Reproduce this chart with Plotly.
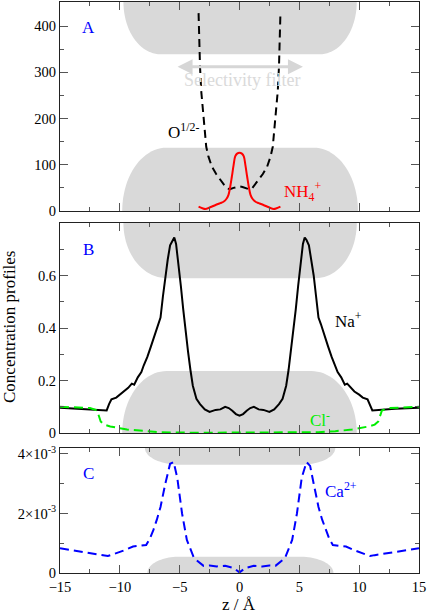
import numpy as np
import plotly.graph_objects as go

# ---------------- data ----------------
# Panel A: O^{1/2-} profile
z_o = [-3.42, -3.38, -3.3, -3.2, -3.1, -3.0, -2.9, -2.78, -2.6, -2.31, -1.95, -1.61, -1.3, -1.05, -0.8, -0.5, -0.25, 0.0,
       0.25, 0.5, 0.8, 1.05, 1.3, 1.61, 1.95, 2.31, 2.6, 2.78, 2.9, 3.0, 3.1, 3.2, 3.3, 3.38, 3.42]
c_o = [428, 380, 313, 260, 230, 197, 170, 139, 118, 96, 80, 67, 57, 49, 47, 50, 52, 53,
       52, 50, 47, 49, 57, 67, 80, 96, 118, 139, 170, 197, 230, 260, 313, 380, 428]

# Panel A: NH4+ profile
z_nh4 = [-3.42, -3.1, -2.87, -2.45, -2.0, -1.6, -1.34, -1.1, -0.92, -0.78, -0.64, -0.5, -0.36, -0.2, 0.0,
         0.2, 0.36, 0.5, 0.64, 0.78, 0.92, 1.1, 1.34, 1.6, 2.0, 2.45, 2.87, 3.1, 3.42]
c_nh4 = [9.4, 6, 4.3, 8, 13, 17, 20, 26, 35, 52, 74, 98, 118, 124, 126,
         124, 118, 98, 74, 52, 35, 26, 20, 17, 13, 8, 4.3, 6, 9.4]

# Panel B: Na+ profile
z_na = [-15, -13, -11.1, -10.9, -10.7, -10.3, -10.0, -9.6, -9.3, -9.0, -8.8, -8.5, -8.2, -8.0, -7.7, -7.4, -7.1,
        -6.8, -6.6, -6.4, -6.2, -6.0, -5.8, -5.6, -5.45, -5.3, -5.1, -4.9, -4.7, -4.5, -4.3, -4.1, -3.9, -3.6,
        -3.3, -2.9, -2.5, -2.0, -1.6, -1.2, -0.9, -0.6, -0.3, 0.0,
        0.3, 0.6, 0.9, 1.2, 1.6, 2.0, 2.5, 2.9, 3.3, 3.6, 3.9, 4.1, 4.3, 4.5, 4.7, 4.9, 5.1, 5.3, 5.45, 5.6,
        5.8, 6.0, 6.2, 6.4, 6.6, 6.8, 7.1, 7.4, 7.7, 8.0, 8.2, 8.5, 8.8, 9.0, 9.3, 9.6, 10.0, 10.3, 10.7,
        10.9, 11.1, 13, 15]
c_na = [0.096, 0.092, 0.086, 0.11, 0.128, 0.135, 0.146, 0.158, 0.172, 0.188, 0.184, 0.212, 0.232, 0.258, 0.29,
        0.33, 0.37, 0.415, 0.44, 0.52, 0.6, 0.66, 0.715, 0.735, 0.745, 0.72, 0.65, 0.56, 0.47, 0.38, 0.31, 0.24,
        0.18, 0.13, 0.11, 0.09, 0.08, 0.088, 0.09, 0.1, 0.095, 0.085, 0.072, 0.066,
        0.072, 0.085, 0.095, 0.1, 0.09, 0.088, 0.08, 0.09, 0.11, 0.13, 0.18, 0.24, 0.31, 0.38, 0.47, 0.56, 0.65,
        0.72, 0.745, 0.735, 0.715, 0.66, 0.6, 0.52, 0.44, 0.415, 0.37, 0.33, 0.29, 0.258, 0.232, 0.212, 0.184,
        0.188, 0.172, 0.158, 0.146, 0.135, 0.128, 0.11, 0.086, 0.092, 0.096]

# Panel B: Cl- profile
z_cl = [-15, -12.5, -11.9, -11.6, -11.3, -10.8, -9.4, -8.0, -6.6, -4.0, 0.0, 4.0, 6.6, 8.0, 9.4, 10.8, 11.3, 11.6, 11.9, 12.5, 15]
c_cl = [0.1, 0.095, 0.086, 0.044, 0.032, 0.025, 0.013, 0.007, 0.003, 0.001, 0.0007, 0.001, 0.003, 0.007, 0.013,
        0.025, 0.032, 0.044, 0.086, 0.095, 0.1]

# Panel C: Ca2+ profile
z_ca = [-15, -13, -11, -10.7, -9.7, -8.9, -8.3, -7.8, -7.5, -7.2, -6.9, -6.6, -6.2, -5.8, -5.5, -5.2, -4.8, -4.4,
        -3.8, -3.0, -2.5, -1.9, -1.2, -0.5, 0.0,
        0.5, 1.2, 1.9, 2.5, 3.0, 3.8, 4.4, 4.8, 5.2, 5.6, 5.9, 6.2, 6.6, 6.9, 7.2, 7.5, 7.8, 8.3, 8.9, 9.7, 10.9,
        11.3, 13, 15]
c_ca = [0.83e-3, 0.7e-3, 0.57e-3, 0.61e-3, 0.75e-3, 0.89e-3, 0.92e-3, 0.94e-3, 1.15e-3, 1.44e-3, 1.8e-3, 2.22e-3,
        3.0e-3, 3.67e-3, 3.73e-3, 3.2e-3, 2.0e-3, 1.11e-3, 0.5e-3, 0.24e-3, 0.25e-3, 0.22e-3, 0.24e-3, 0.17e-3,
        0.02e-3,
        0.17e-3, 0.24e-3, 0.22e-3, 0.25e-3, 0.24e-3, 0.5e-3, 1.11e-3, 2.0e-3, 3.2e-3, 3.73e-3, 3.6e-3, 3.0e-3,
        2.22e-3, 1.8e-3, 1.44e-3, 1.15e-3, 0.94e-3, 0.92e-3, 0.89e-3, 0.75e-3, 0.57e-3, 0.6e-3, 0.7e-3, 0.83e-3]

x_ticks = [-15, -10, -5, 0, 5, 10, 15]
ya_ticks = [0, 100, 200, 300, 400]
yb_ticks = [0, 0.2, 0.4, 0.6]
yb_ticktext = ["0", "0.2", "0.4", "0.6"]
yc_ticks = [0, 0.002, 0.004]
yc_ticktext = ["0", "2×10<sup>-3</sup>", "4×10<sup>-3</sup>"]

# ---------------- styling ----------------
FONT = "Liberation Serif, Times New Roman, DejaVu Serif, serif"
GRAY = "#d9d9d9"
BLUE = "#0000ff"
RED = "#ff0000"
GREEN = "#00ee00"

fig = go.Figure()

fig.add_trace(go.Scatter(x=z_o, y=c_o, mode="lines", line=dict(color="black", width=2, dash="8px,5px"),
                         xaxis="x", yaxis="y", showlegend=False))
fig.add_trace(go.Scatter(x=z_nh4, y=c_nh4, mode="lines", line=dict(color=RED, width=2, shape="spline"),
                         xaxis="x", yaxis="y", showlegend=False))
fig.add_trace(go.Scatter(x=z_na, y=c_na, mode="lines", line=dict(color="black", width=2),
                         xaxis="x2", yaxis="y2", showlegend=False))
fig.add_trace(go.Scatter(x=z_cl, y=c_cl, mode="lines", line=dict(color=GREEN, width=2, dash="9px,5px"),
                         xaxis="x2", yaxis="y2", showlegend=False))
fig.add_trace(go.Scatter(x=z_ca, y=c_ca, mode="lines", line=dict(color=BLUE, width=2, dash="9px,5px"),
                         xaxis="x3", yaxis="y3", showlegend=False))

ranges = {"y": [0, 452], "y2": [0, 0.8], "y3": [0, 0.0042]}


def slab_path(x_edge_l, x_edge_r, x_flat_l, x_flat_r, y_edge, y_flat):
    """Rounded slab: edge line at y_edge, flat face at y_flat, elliptical corners."""
    ry = y_edge - y_flat
    t = np.linspace(0, np.pi / 2, 24)
    pts = [(x_edge_l, y_edge)]
    rxl = x_flat_l - x_edge_l
    for a in t:
        pts.append((x_flat_l - rxl * np.cos(a), y_edge - ry * np.sin(a)))
    rxr = x_edge_r - x_flat_r
    for a in t[::-1]:
        pts.append((x_flat_r + rxr * np.cos(a), y_edge - ry * np.sin(a)))
    pts.append((x_edge_r, y_edge))
    return "M " + " L ".join(f"{px:.4f},{py:.6g}" for px, py in pts) + " Z"


shapes = []
slabs = [
    ("x", "y", -9.7, 9.8, -6.6, 6.7, 452, 339),
    ("x", "y", -9.8, 9.9, -6.1, 6.2, 0, 137),
    ("x2", "y2", -9.7, 9.8, -6.1, 6.4, 0.8, 0.59),
    ("x2", "y2", -9.8, 9.8, -6.1, 6.0, 0, 0.236),
    ("x3", "y3", -7.9, 8.0, -5.0, 5.1, 0.0042, 0.00364),
    ("x3", "y3", -7.7, 7.85, -5.0, 5.0, 0, 0.00055),
]
for xr, yr, xel, xer, xfl, xfr, ye, yf in slabs:
    shapes.append(dict(type="path", xref=xr, yref=yr, path=slab_path(xel, xer, xfl, xfr, ye, yf),
                       fillcolor=GRAY, line=dict(width=0), layer="below"))

annotations = []


def txt(text, x, y, xr, yr, color, size=17, **kw):
    annotations.append(dict(text=text, x=x, y=y, xref=xr, yref=yr, showarrow=False,
                            font=dict(family=FONT, size=size, color=color), **kw))


txt("A", -12.6, 397, "x", "y", BLUE)
txt("B", -12.6, 0.70, "x2", "y2", BLUE)
txt("C", -12.6, 0.00335, "x3", "y3", BLUE)
txt("O<sup>1/2-</sup>", -4.7, 172, "x", "y", "black")
txt("NH<sub>4</sub><sup>+</sup>", 5.3, 42, "x", "y", RED)
txt("Na<sup>+</sup>", 9.1, 0.43, "x2", "y2", "black")
txt("Cl<sup>-</sup>", 6.7, 0.055, "x2", "y2", GREEN)
txt("Ca<sup>2+</sup>", 8.5, 0.0028, "x3", "y3", BLUE)
txt("Selectivity filter", 0.2, 284, "x", "y", "#dadada", size=18)

annotations.append(dict(x=5.3, y=312, ax=-5.3, ay=312, xref="x", yref="y", axref="x", ayref="y",
                        showarrow=True, arrowhead=2, arrowside="end+start", arrowsize=1,
                        arrowwidth=3, arrowcolor="#d6d6d6", text=""))

W, H = 427, 614
ML, MR, MT, MB = 60, 8, 2, 41
pw, ph = W - ML - MR, H - MT - MB


def px_x(v):
    return (v - ML) / pw


def px_y(v):
    return (H - MB - v) / ph


annotations.append(dict(text="Concentration profiles", x=px_x(9), y=px_y(327), xref="paper", yref="paper",
                        xanchor="center", yanchor="middle", textangle=-90, showarrow=False,
                        font=dict(family=FONT, size=17, color="black")))
annotations.append(dict(text="z / Å", x=px_x(239), y=px_y(604.5), xref="paper", yref="paper",
                        xanchor="center", yanchor="middle", showarrow=False,
                        font=dict(family=FONT, size=17, color="black")))


def dom(top_px, bot_px):
    return [px_y(bot_px), px_y(top_px)]


axis_common = dict(showline=True, linecolor="#222222", linewidth=1, mirror="ticks", ticks="inside",
                   ticklen=8, tickcolor="#555555", tickwidth=1, showgrid=False, zeroline=False,
                   automargin=False, tickfont=dict(family=FONT, size=14.5, color="black"))
minor_x = dict(dtick=2.5, tick0=0, ticks="inside", ticklen=4, tickcolor="#555555")

layout = dict(
    template="none",
    width=W, height=H,
    margin=dict(l=ML, r=MR, t=MT, b=MB, autoexpand=False),
    paper_bgcolor="white", plot_bgcolor="white",
    font=dict(family=FONT),
    showlegend=False,
    shapes=shapes, annotations=annotations,
    xaxis=dict(range=[-15, 15], anchor="y", tickvals=x_ticks, showticklabels=False, minor=minor_x, **axis_common),
    xaxis2=dict(range=[-15, 15], anchor="y2", tickvals=x_ticks, showticklabels=False, minor=minor_x, **axis_common),
    xaxis3=dict(range=[-15, 15], anchor="y3", tickvals=x_ticks, minor=minor_x, ticklabelstandoff=1, **axis_common),
    yaxis=dict(range=ranges["y"], domain=dom(2, 211), anchor="x", tickvals=ya_ticks,
               minor=dict(dtick=50, tick0=0, ticks="inside", ticklen=4, tickcolor="#555555"), **axis_common),
    yaxis2=dict(range=ranges["y2"], domain=dom(223, 433), anchor="x2", tickvals=yb_ticks, ticktext=yb_ticktext,
                minor=dict(dtick=0.1, tick0=0, ticks="inside", ticklen=4, tickcolor="#555555"), **axis_common),
    yaxis3=dict(range=ranges["y3"], domain=dom(448, 573), anchor="x3", tickvals=yc_ticks, ticktext=yc_ticktext,
                minor=dict(dtick=0.001, tick0=0, ticks="inside", ticklen=4, tickcolor="#555555"), **axis_common),
)
fig.update_layout(**layout)
fig.write_html("out.html", config={"displayModeBar": False},
               post_script="document.body.style.margin='0px';document.body.style.overflow='hidden';")
